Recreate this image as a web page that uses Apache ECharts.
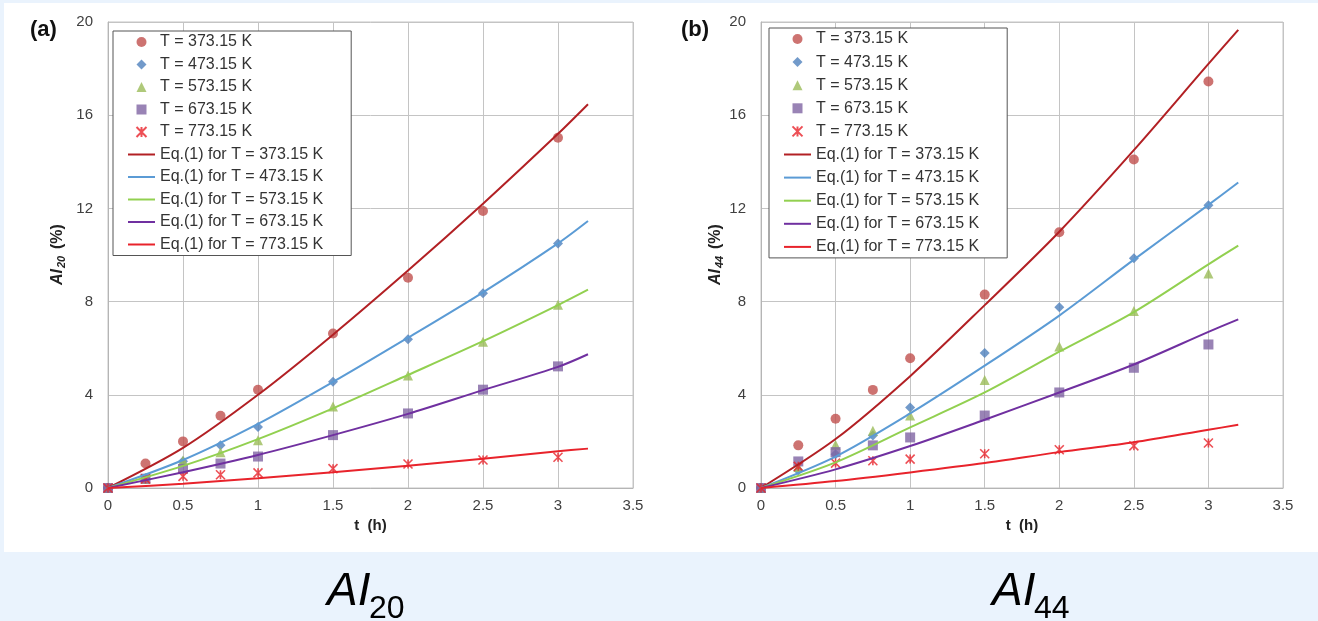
<!DOCTYPE html>
<html>
<head>
<meta charset="utf-8">
<script src="https://cdn.jsdelivr.net/npm/echarts@6/dist/echarts.min.js"></script>
<style>
  html, body { margin: 0; padding: 0; background: #EAF3FD; }
  #chart { width: 1318px; height: 621px; }
</style>
</head>
<body>
<div id="chart"></div>
<script>
// ---- data ----
const tObs = [0, 0.25, 0.5, 0.75, 1, 1.5, 2, 2.5, 3];
const tFit = [0, 0.5, 1, 1.5, 2, 2.5, 3, 3.2];
const xTicks = [0, 0.5, 1, 1.5, 2, 2.5, 3, 3.5];
const yTicks = [0, 4, 8, 12, 16, 20];
const temps = ['373.15', '473.15', '573.15', '673.15', '773.15'];

// Panel (a): AI20
const ai20_373 = [0, 1.05, 2.0, 3.1, 4.22, 6.63, 9.02, 11.89, 15.03];
const ai20_473 = [0, 0.42, 1.15, 1.83, 2.62, 4.56, 6.38, 8.36, 10.49];
const ai20_573 = [0, 0.39, 1.18, 1.53, 2.05, 3.5, 4.83, 6.28, 7.86];
const ai20_673 = [0, 0.4, 0.82, 1.05, 1.35, 2.27, 3.2, 4.22, 5.22];
const ai20_773 = [0, 0.39, 0.5, 0.57, 0.65, 0.83, 1.03, 1.2, 1.32];
const fit20_373 = [0, 1.72, 4.0, 6.58, 9.33, 12.2, 15.2, 16.47];
const fit20_473 = [0, 1.2, 2.75, 4.55, 6.45, 8.4, 10.5, 11.46];
const fit20_573 = [0, 0.95, 2.1, 3.42, 4.85, 6.3, 7.85, 8.51];
const fit20_673 = [0, 0.68, 1.42, 2.27, 3.18, 4.2, 5.2, 5.74];
const fit20_773 = [0, 0.18, 0.42, 0.68, 0.96, 1.26, 1.58, 1.69];

// Panel (b): AI44
const ai44_373 = [0, 1.83, 2.97, 4.21, 5.57, 8.3, 10.98, 14.1, 17.45];
const ai44_473 = [0, 0.75, 1.45, 2.25, 3.46, 5.79, 7.76, 9.86, 12.13];
const ai44_573 = [0, 0.9, 1.86, 2.46, 3.11, 4.64, 6.07, 7.6, 9.21];
const ai44_673 = [0, 1.14, 1.54, 1.83, 2.17, 3.11, 4.1, 5.16, 6.16];
const ai44_773 = [0, 0.93, 1.07, 1.17, 1.24, 1.47, 1.64, 1.81, 1.93];
const fit44_373 = [0, 2.1, 4.8, 7.85, 11.0, 14.5, 18.2, 19.66];
const fit44_473 = [0, 1.35, 3.2, 5.25, 7.4, 9.8, 12.15, 13.11];
const fit44_573 = [0, 1.1, 2.6, 4.1, 5.85, 7.55, 9.6, 10.4];
const fit44_673 = [0, 0.8, 1.8, 2.93, 4.1, 5.3, 6.7, 7.24];
const fit44_773 = [0, 0.3, 0.67, 1.07, 1.54, 1.96, 2.5, 2.71];

// ---- styles ----
const FONT = "'Liberation Sans', Arial, sans-serif";
const STAR = 'path://M0,0L10,10M10,0L0,10M5,0L5,10';
const markerStyles = [
  { symbol: 'circle', symbolSize: 10, itemStyle: { color: '#C0504D' } },
  { symbol: 'diamond', symbolSize: 10, itemStyle: { color: '#4F81BD' } },
  { symbol: 'triangle', symbolSize: 10, itemStyle: { color: '#9BBB59' } },
  { symbol: 'rect', symbolSize: 10, itemStyle: { color: '#8064A2' } },
  { symbol: STAR, symbolSize: 9,
    itemStyle: { color: 'rgba(0,0,0,0)', borderColor: '#E8232B', borderWidth: 1.6 } }
];
const legendIcons = [
  'circle',
  'path://M5,0L10,5L5,10L0,5Z',
  'path://M5,0L10,10L0,10Z',
  'path://M0,0H10V10H0Z',
  STAR
];
const LINE_ICON = 'path://M0,0H27V2H0Z';
const lineColors = ['#B22024', '#5B9BD5', '#92D050', '#7030A0', '#E8232B'];

const obsNames = temps.map(t => 'T = ' + t + ' K');
const fitNames = temps.map(t => 'Eq.(1) for T = ' + t + ' K');

function pairs(xs, ys) { return xs.map((x, i) => [x, ys[i]]); }

function panelSeries(idx, obs, fits) {
  const s = [];
  obs.forEach((d, i) => {
    s.push(Object.assign({
      type: 'scatter', name: obsNames[i], xAxisIndex: idx, yAxisIndex: idx,
      data: pairs(tObs, d)
    }, JSON.parse(JSON.stringify(markerStyles[i]))));
  });
  fits.forEach((d, i) => {
    s.push({
      type: 'line', name: fitNames[i], xAxisIndex: idx, yAxisIndex: idx,
      data: pairs(tFit, d), smooth: 0.3, symbol: 'none', showSymbol: false,
      lineStyle: { color: lineColors[i], width: 2 }, itemStyle: { color: lineColors[i] }
    });
  });
  return s;
}

const series = [].concat(
  panelSeries(0, [ai20_373, ai20_473, ai20_573, ai20_673, ai20_773],
                 [fit20_373, fit20_473, fit20_573, fit20_673, fit20_773]),
  panelSeries(1, [ai44_373, ai44_473, ai44_573, ai44_673, ai44_773],
                 [fit44_373, fit44_473, fit44_573, fit44_673, fit44_773])
);

function xAxis(gi) {
  return {
    type: 'value', gridIndex: gi, min: xTicks[0], max: xTicks[xTicks.length - 1], interval: 0.5,
    name: 't  (h)', nameLocation: 'middle', nameGap: 30,
    nameTextStyle: { fontFamily: FONT, fontWeight: 'bold', fontSize: 15, color: '#222' },
    axisLine: { lineStyle: { color: '#b5b5b5' } },
    axisTick: { show: false },
    axisLabel: { fontFamily: FONT, fontSize: 15, color: '#404040', margin: 10 },
    splitLine: { show: true, lineStyle: { color: '#c4c4c4', width: 1 } }
  };
}
function yAxis(gi) {
  return {
    type: 'value', gridIndex: gi, min: yTicks[0], max: yTicks[yTicks.length - 1], interval: 4,
    axisLine: { show: true, lineStyle: { color: '#b5b5b5' } },
    axisTick: { show: false },
    axisLabel: { fontFamily: FONT, fontSize: 15, color: '#404040', margin: 15 },
    splitLine: { show: true, lineStyle: { color: '#c4c4c4', width: 1 } }
  };
}
function legend(left, top, gap) {
  const data = obsNames.map((n, i) => ({ name: n, icon: legendIcons[i] }))
    .concat(fitNames.map(n => ({ name: n, icon: LINE_ICON })));
  return {
    show: true, orient: 'vertical', left: left, top: top,
    itemWidth: 27, itemHeight: 10, itemGap: gap,
    symbolKeepAspect: true,
    padding: [3, 28, 3, 15],
    borderColor: '#555', borderWidth: 1, backgroundColor: '#fff',
    textStyle: { fontFamily: FONT, fontSize: 16, lineHeight: 16, color: '#333' },
    data: data,
    selectedMode: false
  };
}

function yTitle(x, y, sub) {
  return {
    type: 'group', x: x, y: y, rotation: Math.PI / 2,
    children: [
      { type: 'text', x: 0, y: 0, style: { text: 'AI', fontFamily: FONT, fontSize: 16, fontWeight: 'bold', fontStyle: 'italic', fill: '#222', verticalAlign: 'middle' } },
      { type: 'text', x: 17, y: 4, style: { text: sub, fontFamily: FONT, fontSize: 11, fontWeight: 'bold', fontStyle: 'italic', fill: '#222', verticalAlign: 'middle' } },
      { type: 'text', x: 36, y: 0, style: { text: '(%)', fontFamily: FONT, fontSize: 16, fontWeight: 'bold', fill: '#222', verticalAlign: 'middle' } }
    ]
  };
}
function bigLabel(x, sub) {
  const NF = "'Liberation Sans Narrow', 'Arial Narrow', 'Liberation Sans', sans-serif";
  return {
    type: 'group', x: x, y: 0,
    children: [
      { type: 'text', x: 0, y: 592, style: { text: 'AI', fontFamily: NF, fontSize: 46, fontStyle: 'italic', fill: '#000', verticalAlign: 'middle' } },
      { type: 'text', x: 42, y: 609, style: { text: sub, fontFamily: NF, fontSize: 32, fill: '#000', verticalAlign: 'middle' } }
    ]
  };
}

const option = {
  animation: false,
  backgroundColor: '#EAF3FD',
  grid: [
    { left: 108, top: 22, width: 525, height: 466, show: true, borderColor: '#c4c4c4', borderWidth: 1, backgroundColor: '#fff' },
    { left: 761, top: 22, width: 522, height: 466, show: true, borderColor: '#c4c4c4', borderWidth: 1, backgroundColor: '#fff' }
  ],
  xAxis: [xAxis(0), xAxis(1)],
  yAxis: [yAxis(0), yAxis(1)],
  legend: [legend(113, 31, 6.5), legend(769, 28, 7.1)],
  graphic: [
    { type: 'rect', z: -10, shape: { x: 4, y: 3, width: 1314, height: 549 }, style: { fill: '#ffffff' } },
    { type: 'text', x: 30, y: 30, style: { text: '(a)', fontFamily: FONT, fontSize: 22, fontWeight: 'bold', fill: '#111', verticalAlign: 'middle' } },
    { type: 'text', x: 681, y: 30, style: { text: '(b)', fontFamily: FONT, fontSize: 22, fontWeight: 'bold', fill: '#111', verticalAlign: 'middle' } },
    yTitle(58, 285, '20'),
    yTitle(716, 285, '44'),
    bigLabel(327, '20'),
    bigLabel(992, '44')
  ],
  series: series
};

const chart = echarts.init(document.getElementById('chart'), null, { renderer: 'canvas' });
chart.setOption(option);
</script>
</body>
</html>
